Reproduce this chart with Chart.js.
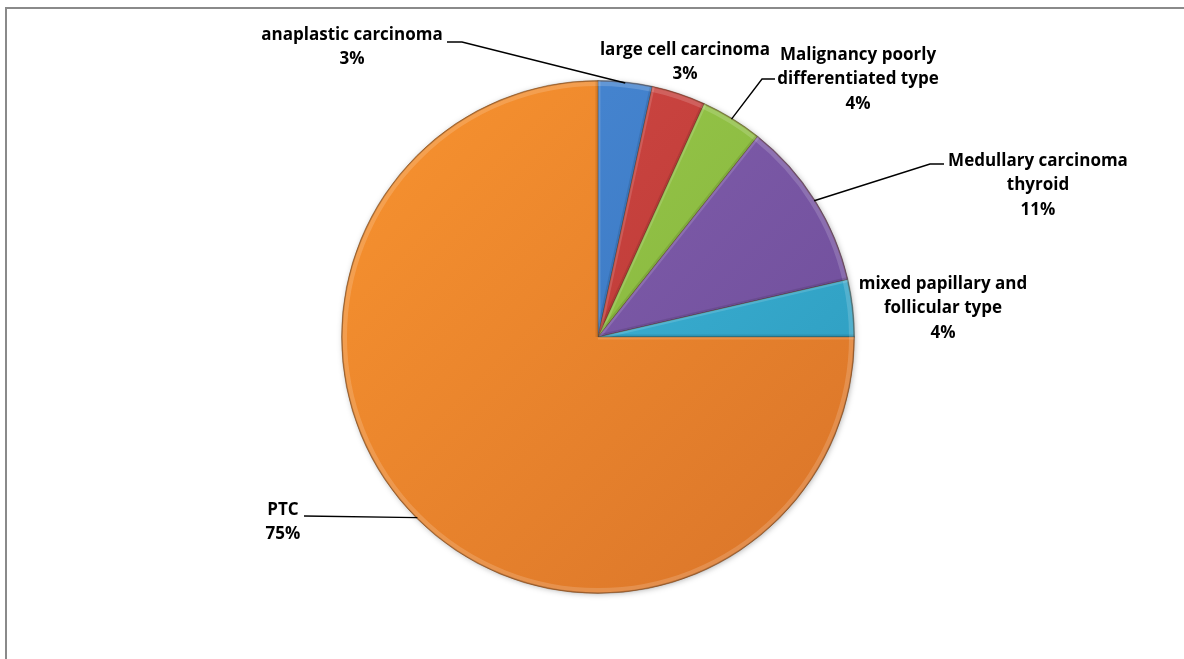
<!DOCTYPE html>
<html>
<head>
<meta charset="utf-8">
<script src="https://cdn.jsdelivr.net/npm/chart.js@4.4.1/dist/chart.umd.min.js"></script>
<style>
  html, body { margin: 0; padding: 0; background: #fff; }
  #wrap { position: relative; width: 1184px; height: 659px; overflow: hidden; }
  #frame { position: absolute; left: 5px; top: 7px; right: -4px; bottom: -4px;
           border-top: 2px solid #8a8a8a; border-left: 2px solid #8a8a8a; }
  canvas { position: absolute; left: 0; top: 0; }
</style>
</head>
<body>
<div id="wrap">
  <div id="frame"></div>
  <canvas id="c" width="1184" height="659"></canvas>
</div>
<script>
// ---- data ----
const categories = [
  'anaplastic carcinoma',
  'large cell carcinoma',
  'Malignancy poorly differentiated type',
  'Medullary carcinoma thyroid',
  'mixed papillary and follicular type',
  'PTC'
];
const labelLines = [
  ['anaplastic carcinoma'],
  ['large cell carcinoma'],
  ['Malignancy poorly', 'differentiated type'],
  ['Medullary carcinoma', 'thyroid'],
  ['mixed papillary and', 'follicular type'],
  ['PTC']
];
const shares = [3.4, 3.4, 3.9, 10.7, 3.6, 75.0];

// ---- styles / layout (not data) ----
const sliceColors = [
  ['#4a8ad6', '#3470b8'],
  ['#d24a46', '#b3332f'],
  ['#9ccc4e', '#7fae37'],
  ['#8663b2', '#6b4a96'],
  ['#45bde0', '#2a98bb'],
  ['#f8932f', '#d9742a']
];
const labelLayout = [
  { x: 352, y: 35, leader: [[447, 42], [462, 42]] },
  { x: 685, y: 50, leader: null },
  { x: 858, y: 55, leader: [[775, 79], [762, 79]] },
  { x: 1038, y: 161, leader: [[944, 164], [930, 164]] },
  { x: 943, y: 284, leader: null },
  { x: 283, y: 510, leader: [[304, 516]] }
];
const lineGap = 24.5;
const labelFont = 'bold 17px "Open Sans", "DejaVu Sans", sans-serif';

function bg(ctx) {
  const chart = ctx.chart;
  const area = chart.chartArea;
  const cols = sliceColors[ctx.dataIndex];
  if (!area) return cols[0];
  const g = chart.ctx.createLinearGradient(area.left, area.top, area.right, area.bottom);
  g.addColorStop(0, cols[0]);
  g.addColorStop(1, cols[1]);
  return g;
}

const shadowPlugin = {
  id: 'pieShadow',
  beforeDatasetsDraw(chart) {
    const arc = chart.getDatasetMeta(0).data[0];
    if (!arc) return;
    const c = chart.ctx;
    c.save();
    c.shadowColor = 'rgba(0,0,0,0.35)';
    c.shadowBlur = 6;
    c.shadowOffsetX = 1;
    c.shadowOffsetY = 1;
    c.beginPath();
    c.arc(arc.x, arc.y, arc.outerRadius - 1, 0, Math.PI * 2);
    c.fillStyle = '#e07d2a';
    c.fill();
    c.restore();
  }
};

const bevelPlugin = {
  id: 'bevel',
  afterDatasetsDraw(chart) {
    const c = chart.ctx;
    chart.getDatasetMeta(0).data.forEach((a) => {
      const r = a.outerRadius;
      c.save();
      c.beginPath();
      c.moveTo(a.x, a.y);
      c.arc(a.x, a.y, r, a.startAngle, a.endAngle);
      c.closePath();
      c.clip();
      c.beginPath();
      c.arc(a.x, a.y, r - 3, a.startAngle, a.endAngle);
      c.lineWidth = 5;
      c.strokeStyle = 'rgba(255,255,255,0.16)';
      c.stroke();
      c.beginPath();
      c.arc(a.x, a.y, r - 0.5, a.startAngle, a.endAngle);
      c.lineWidth = 1.5;
      c.strokeStyle = 'rgba(90,50,20,0.35)';
      c.stroke();
      [a.startAngle, a.endAngle].forEach((ang, k) => {
        c.beginPath();
        c.moveTo(a.x, a.y);
        c.lineTo(a.x + r * Math.cos(ang), a.y + r * Math.sin(ang));
        c.lineWidth = 5;
        c.strokeStyle = k === 0 ? 'rgba(255,255,255,0.14)' : 'rgba(0,0,0,0.10)';
        c.stroke();
      });
      c.restore();
    });
  }
};

const labelPlugin = {
  id: 'sliceLabels',
  afterDraw(chart) {
    const c = chart.ctx;
    const data = chart.data.datasets[0].data;
    const total = data.reduce((s, v) => s + v, 0);
    const arcs = chart.getDatasetMeta(0).data;
    c.save();
    c.font = labelFont;
    c.fillStyle = '#000';
    c.textAlign = 'center';
    c.textBaseline = 'middle';
    arcs.forEach((a, i) => {
      const L = labelLayout[i];
      const lines = labelLines[i].concat([Math.round(data[i] / total * 100) + '%']);
      lines.forEach((t, k) => {
        c.fillText(t, L.x, L.y + k * lineGap);
      });
      if (L.leader) {
        const mid = (a.startAngle + a.endAngle) / 2;
        const px = a.x + (a.outerRadius - 1) * Math.cos(mid);
        const py = a.y + (a.outerRadius - 1) * Math.sin(mid);
        c.beginPath();
        c.moveTo(L.leader[0][0], L.leader[0][1]);
        for (let k = 1; k < L.leader.length; k++) c.lineTo(L.leader[k][0], L.leader[k][1]);
        c.lineTo(px, py);
        c.lineWidth = 1.4;
        c.strokeStyle = '#000';
        c.stroke();
      }
    });
    c.restore();
  }
};

new Chart(document.getElementById('c'), {
  type: 'pie',
  data: {
    labels: categories,
    datasets: [{
      data: shares,
      backgroundColor: bg,
      borderColor: 'rgba(60,40,20,0.35)',
      borderWidth: 1
    }]
  },
  options: {
    responsive: false,
    animation: false,
    layout: { padding: { left: 341, right: 329, top: 80, bottom: 65 } },
    plugins: { legend: { display: false }, tooltip: { enabled: false } }
  },
  plugins: [shadowPlugin, bevelPlugin, labelPlugin]
});
</script>
</body>
</html>
